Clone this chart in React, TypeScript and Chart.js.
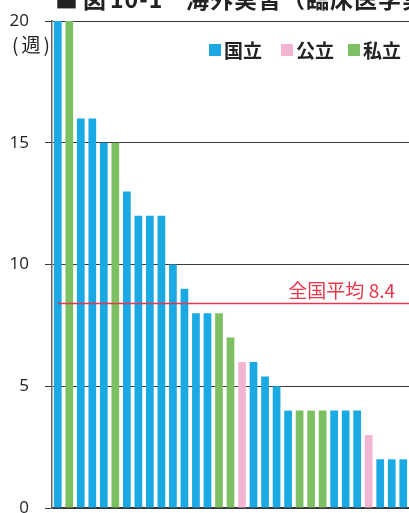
import React, { useEffect, useRef } from "react";
import { Chart, registerables } from "chart.js";

Chart.register(...registerables);

// ---- data ----
const categories = [
  "1", "2", "3", "4", "5", "6", "7", "8", "9", "10",
  "11", "12", "13", "14", "15", "16", "17", "18", "19", "20",
  "21", "22", "23", "24", "25", "26", "27", "28", "29", "30", "31",
];
const weeks = [20, 20, 16, 16, 15, 15, 13, 12, 12, 12, 10, 9, 8, 8, 8, 7, 6, 6, 5.4, 5, 4, 4, 4, 4, 4, 4, 4, 3, 2, 2, 2];
// N = 国立, P = 公立, S = 私立
const types = ["N", "S", "N", "N", "N", "S", "N", "N", "N", "N", "N", "N", "N", "N", "S", "S", "P", "N", "N", "N", "N", "S", "S", "S", "N", "N", "N", "P", "N", "N", "N"];
const groupKeys = ["N", "P", "S"];
const groupNames = ["国立", "公立", "私立"];
const groupColors = ["#1aa9e3", "#f3b6d2", "#7dc063"];
const yTicks = [0, 5, 10, 15, 20];
const nationalAverage = 8.4;
const averageLabel = "全国平均 8.4";
const unitLabel = "(週)";
const titleParts = ["■", "図", "10-1", "海外実習（臨床医学実習）期間"];

const CANVAS_W = 409;
const CANVAS_H = 560;
const CANVAS_TOP = -10;
const PLOT_TOP = 21 - CANVAS_TOP;
const PLOT_BOTTOM = 508 - CANVAS_TOP;
const AXIS_LEFT = 52;

const avgPlugin = {
  id: "avgLine",
  afterDatasetsDraw(chart: any) {
    const { ctx, chartArea, scales } = chart;
    const y = scales.y.getPixelForValue(nationalAverage);
    const x0 = scales.x.getPixelForValue(0);
    ctx.save();
    ctx.strokeStyle = "#e8374a";
    ctx.lineWidth = 1.5;
    ctx.beginPath();
    ctx.moveTo(x0, y);
    ctx.lineTo(chartArea.right, y);
    ctx.stroke();
    ctx.fillStyle = "#e8374a";
    ctx.font = '19px "Noto Sans CJK JP"';
    ctx.textAlign = "right";
    ctx.textBaseline = "alphabetic";
    ctx.fillText(averageLabel, chartArea.right - 14, y - 5.5);
    ctx.restore();
  },
};

export default function App() {
  const ref = useRef<HTMLCanvasElement | null>(null);

  useEffect(() => {
    if (!ref.current) return;
    const datasets = groupKeys.map((k, gi) => ({
      label: groupNames[gi],
      data: weeks.map((v, i) => (types[i] === k ? v : null)),
      backgroundColor: groupColors[gi],
      borderWidth: 0,
      barPercentage: 0.67,
      categoryPercentage: 1,
    }));
    const chart = new Chart(ref.current, {
      type: "bar",
      data: { labels: categories, datasets },
      options: {
        animation: false,
        responsive: false,
        devicePixelRatio: 1,
        layout: { padding: { top: PLOT_TOP, bottom: CANVAS_H - PLOT_BOTTOM, left: 0, right: 0 } },
        plugins: { legend: { display: false }, title: { display: false }, tooltip: { enabled: false } },
        scales: {
          x: {
            stacked: true,
            grid: { display: true, drawOnChartArea: false, drawTicks: false },
            border: { display: true, color: "#333", width: 1.5 },
            ticks: { display: false },
          },
          y: {
            stacked: true,
            min: 0,
            max: 20,
            afterBuildTicks(scale: any) {
              scale.ticks = yTicks.map((v) => ({ value: v }));
            },
            afterFit(scale: any) {
              scale.width = AXIS_LEFT;
            },
            grid: { color: "#3a3a3a", lineWidth: 1, tickLength: 7 },
            border: { display: true, color: "#666", width: 1.5 },
            ticks: {
              padding: 16,
              color: "#222",
              font: { family: '"Open Sans"', size: 17 },
            },
          },
        },
      },
      plugins: [avgPlugin],
    });
    return () => chart.destroy();
  }, []);

  const cjk = '"Noto Sans CJK JP", "Noto Sans", sans-serif';
  const titleLefts = [55, 83, 110, 186];

  return (
    <div style={{ position: "fixed", left: 0, top: 0, width: 409, height: 513, overflow: "hidden", background: "#fff" }}>
      <canvas ref={ref} width={CANVAS_W} height={CANVAS_H} style={{ position: "absolute", left: 0, top: CANVAS_TOP, width: CANVAS_W, height: CANVAS_H }} />
      {titleParts.map((t, i) => (
        <div key={i} style={{ position: "absolute", left: titleLefts[i], top: -13, fontFamily: cjk, fontSize: 23, lineHeight: "23px", fontWeight: 700, color: "#222", whiteSpace: "nowrap", letterSpacing: 1 }}>
          {t}
        </div>
      ))}
      <div style={{ position: "absolute", left: 12, top: 34, fontFamily: cjk, fontSize: 19, lineHeight: "19px", color: "#222", whiteSpace: "nowrap", letterSpacing: 3 }}>
        {unitLabel}
      </div>
      {groupNames.map((name, i) => {
        const lefts = [209, 281, 348];
        return (
          <div key={name} style={{ position: "absolute", left: lefts[i], top: 39, height: 22, display: "flex", alignItems: "center", whiteSpace: "nowrap" }}>
            <span style={{ display: "inline-block", width: 12, height: 12, background: groupColors[i], marginRight: 3 }} />
            <span style={{ fontFamily: cjk, fontSize: 19, lineHeight: "22px", fontWeight: 700, color: "#222" }}>{name}</span>
          </div>
        );
      })}
    </div>
  );
}
